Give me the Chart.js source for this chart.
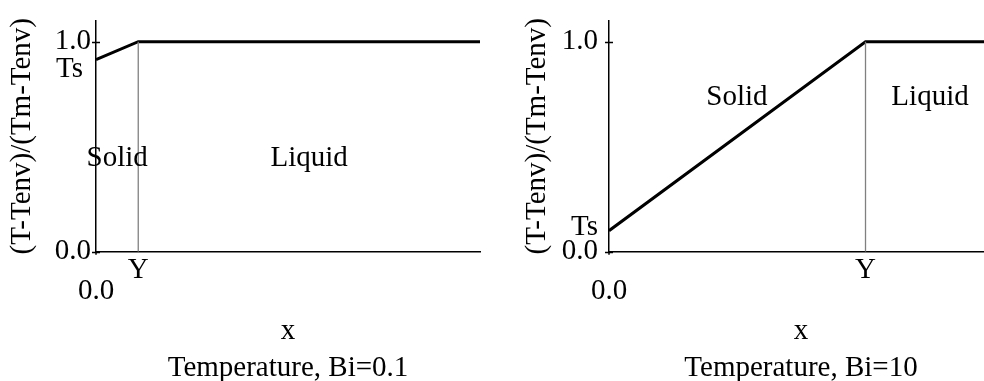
<!DOCTYPE html>
<html>
<head>
<meta charset="utf-8">
<script src="https://cdn.jsdelivr.net/npm/chart.js@4/dist/chart.umd.min.js"></script>
<style>
  html, body { margin: 0; padding: 0; background: #fff; overflow: hidden; width: 984px; height: 381px; }
  .panel { position: absolute; top: 0; width: 492px; height: 381px; }
  #p1 { left: 0; }
  #p2 { left: 513px; }
</style>
</head>
<body>
<div class="panel" id="p1"><canvas id="c1" width="492" height="381"></canvas></div>
<div class="panel" id="p2"><canvas id="c2" width="492" height="381"></canvas></div>
<script>
// ---- data ----
const leftX = [0, 0.11, 1];
const leftY = [0.915, 1, 1];
const leftYmark = 0.11;
const leftTs = 0.915;

const rightX = [0, 0.668, 1];
const rightY = [0.1, 1, 1];
const rightYmark = 0.668;
const rightTs = 0.1;

const yTickValues = [0, 1];
const yTickLabels = ['0.0', '1.0'];
const xTickLabels = ['0.0', 'Y'];

const leftTitle = 'Temperature, Bi=0.1';
const rightTitle = 'Temperature, Bi=10';
const yAxisTitle = '(T-Tenv)/(Tm-Tenv)';
const xAxisTitle = 'x';

const leftRegions = [
  { text: 'Solid', x: 0.055, y: 0.446 },
  { text: 'Liquid', x: 0.555, y: 0.446 }
];
const rightRegions = [
  { text: 'Solid', x: 0.333, y: 0.737 },
  { text: 'Liquid', x: 0.836, y: 0.737 }
];

const FONT = "'Liberation Serif', 'DejaVu Serif', serif";
const FS = 29;
Chart.defaults.font.family = FONT;
Chart.defaults.font.size = FS;
Chart.defaults.color = '#000';

const labelsPlugin = {
  id: 'labelsPlugin',
  afterDraw(chart, args, opts) {
    const ctx = chart.ctx;
    const xs = chart.scales.x, ys = chart.scales.y;
    ctx.save();
    ctx.fillStyle = '#000';
    ctx.font = FS + 'px ' + FONT;
    ctx.textBaseline = 'middle';
    ctx.textAlign = 'center';
    for (const r of opts.regions) {
      ctx.fillText(r.text, xs.getPixelForValue(r.x), ys.getPixelForValue(r.y));
    }
    // Ts label beside the y axis, near the surface temperature
    ctx.textAlign = 'right';
    ctx.fillText('Ts', chart.chartArea.left - opts.tsGap, ys.getPixelForValue(opts.tsLabelY));
    // tick marks crossing the y axis
    ctx.strokeStyle = '#000';
    ctx.lineWidth = 1.5;
    ctx.beginPath();
    const ax = chart.chartArea.left;
    for (const v of yTickValues) {
      const py = Math.round(ys.getPixelForValue(v)) + 0.5;
      ctx.moveTo(ax - 4, py);
      ctx.lineTo(ax + 4, py);
    }
    ctx.moveTo(ax, chart.chartArea.bottom);
    ctx.lineTo(ax, chart.chartArea.bottom + 3);
    ctx.stroke();
    ctx.restore();
  }
};

function makeChart(id, xs, ys, yMark, title, regions, yTickPad, yTitlePad, tsLabelY, tsGap) {
  const pts = xs.map((x, i) => ({ x: x, y: ys[i] }));
  return new Chart(document.getElementById(id), {
    type: 'scatter',
    data: {
      datasets: [
        {
          data: [{ x: yMark, y: 0 }, { x: yMark, y: 1 }],
          showLine: true, borderColor: '#808080', borderWidth: 1.3, pointRadius: 0
        },
        {
          data: pts,
          showLine: true, borderColor: '#000', borderWidth: 3, pointRadius: 0
        }
      ]
    },
    plugins: [labelsPlugin],
    options: {
      responsive: false,
      animation: false,
      layout: { padding: { top: 20.7, right: 12, left: 0, bottom: 0 } },
      plugins: {
        legend: { display: false },
        tooltip: { enabled: false },
        title: { display: false },
        labelsPlugin: { regions: regions, tsLabelY: tsLabelY, tsGap: tsGap }
      },
      scales: {
        x: {
          type: 'linear', min: 0, max: 1,
          grid: { display: false, drawTicks: false },
          border: { display: true, color: '#000', width: 1.5 },
          afterBuildTicks: (s) => { s.ticks = [{ value: 0 }, { value: yMark }]; },
          afterFit: (s) => { s.height = 129.3; s.paddingLeft = 0; s.paddingRight = 0; },
          ticks: {
            autoSkip: false, maxRotation: 0, padding: 8,
            font: { size: FS, lineHeight: 0.724 },
            callback: (v) => v === 0 ? ['', xTickLabels[0]] : xTickLabels[1]
          },
          title: {
            display: true, text: [xAxisTitle, title],
            font: { size: FS, lineHeight: 1.276 }, padding: { top: 0, bottom: -5.5 }
          }
        },
        y: {
          type: 'linear', min: 0, max: 1.1,
          grid: { display: false, drawTicks: false },
          border: { display: true, color: '#000', width: 1.5 },
          afterBuildTicks: (s) => { s.ticks = yTickValues.map(v => ({ value: v })); },
          afterFit: (s) => { s.width = 96; s.paddingTop = 0; s.paddingBottom = 0; },
          ticks: {
            padding: yTickPad, font: { size: FS },
            callback: (v) => yTickLabels[yTickValues.indexOf(v)]
          },
          title: { display: true, text: yAxisTitle, font: { size: FS }, padding: { top: yTitlePad, bottom: 0 } }
        }
      }
    }
  });
}

makeChart('c1', leftX, leftY, leftYmark, leftTitle, leftRegions, 5, 4.6, 0.87, 13);
makeChart('c2', rightX, rightY, rightYmark, rightTitle, rightRegions, 11, 6.6, 0.117, 11);
</script>
</body>
</html>
